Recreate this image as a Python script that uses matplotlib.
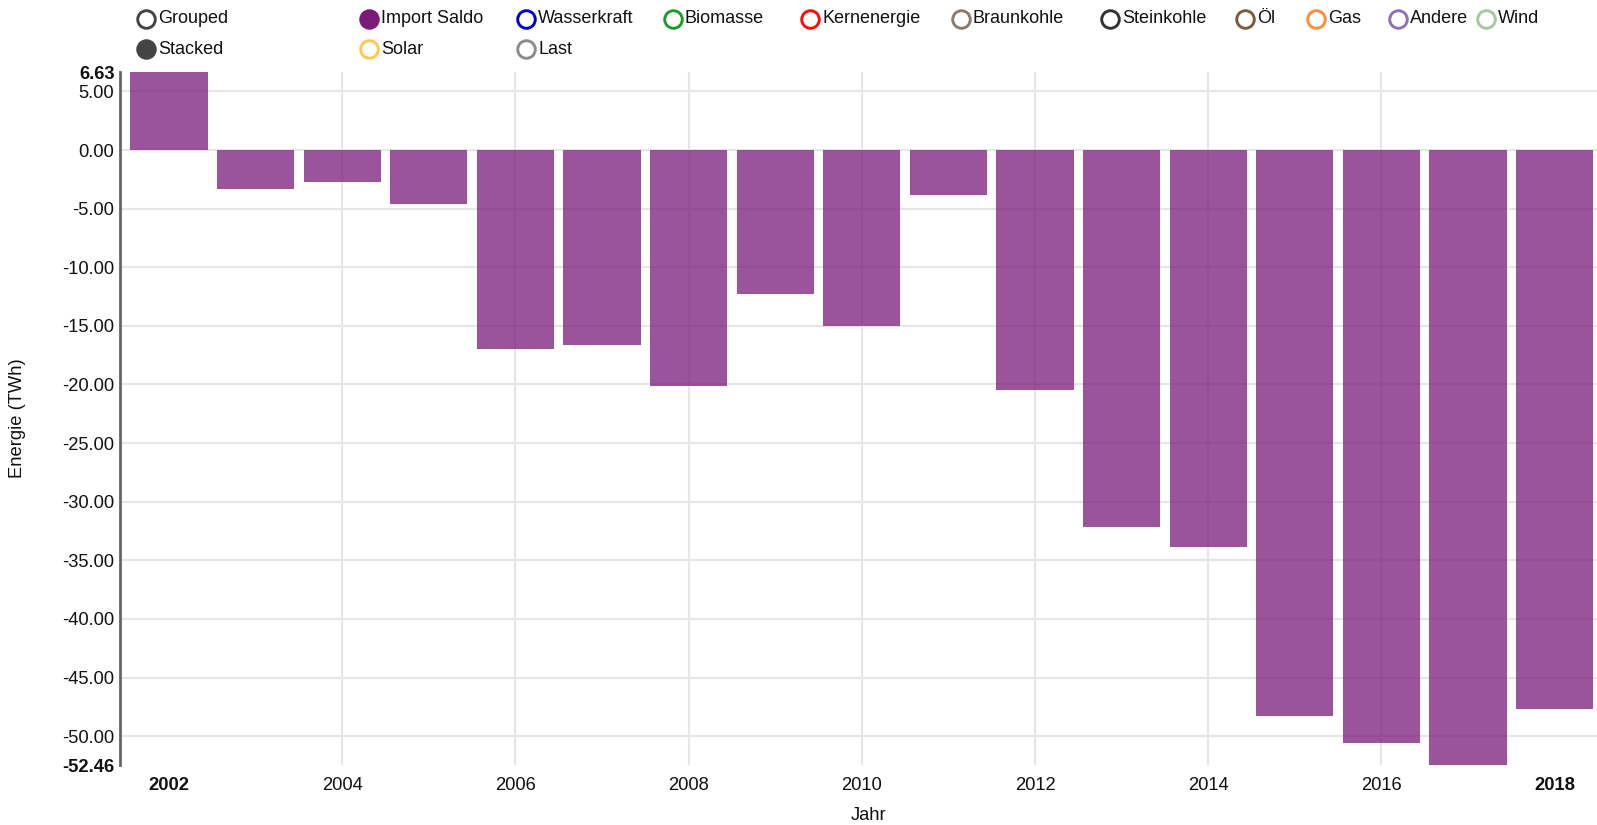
import numpy as np
from matplotlib import pyplot as plt

plt.rcParams['font.family'] = ['Liberation Sans', 'DejaVu Sans']

# Daten: Import Saldo je Jahr (TWh)
jahre = [2002, 2003, 2004, 2005, 2006, 2007, 2008, 2009, 2010,
         2011, 2012, 2013, 2014, 2015, 2016, 2017, 2018]
import_saldo = [6.63, -3.3, -2.7, -4.6, -17.0, -16.6, -20.1, -12.3, -15.0,
                -3.8, -20.5, -32.2, -33.9, -48.3, -50.6, -52.46, -47.7]
y_ticks = [5, 0, -5, -10, -15, -20, -25, -30, -35, -40, -45, -50]
x_ticks = [2002, 2004, 2006, 2008, 2010, 2012, 2014, 2016, 2018]

# Legende (Name, Farbe, gefuellt)
legend_row1 = ['Import Saldo', 'Wasserkraft', 'Biomasse', 'Kernenergie', 'Braunkohle',
               'Steinkohle', 'Öl', 'Gas', 'Andere', 'Wind']
legend_row1_colors = ['#7b1a7b', '#0000cc', '#1e9a2c', '#ff0a0a', '#8c7b6b',
                      '#333333', '#7a5c3e', '#ff8c3c', '#9170b8', '#a8c8a0']
legend_row2 = ['Solar', 'Last']
legend_row2_colors = ['#ffc850', '#8c8c8c']

W, H = 1597, 825
fig = plt.figure(figsize=(W / 100, H / 100), dpi=100)


def px(x0, y0, x1, y1):
    # Pixelbox -> Figurkoordinaten
    return [x0 / W, 1 - y1 / H, (x1 - x0) / W, (y1 - y0) / H]


ax = fig.add_axes(px(120, 72.3, 1604, 765))
ymin, ymax = min(import_saldo), max(import_saldo)

ax.bar(jahre, import_saldo, width=0.89, color='#7a1a7a', alpha=0.75, zorder=2)
ax.set_xlim(2001.434, 2018.57)
ax.set_ylim(ymin, ymax)

# Gitter
for yt in y_ticks:
    ax.axhline(yt, color='#e6e6e6', lw=1.5, zorder=1)
for xt in x_ticks[1:-1]:
    ax.axvline(xt, color='#e6e6e6', lw=1.5, zorder=1)

yt_all = [ymax] + y_ticks + [ymin]
ax.set_yticks(yt_all)
ax.set_yticklabels(['%.2f' % v for v in yt_all])
ax.set_xticks(x_ticks)
ax.set_xticklabels([str(v) for v in x_ticks])
for lab in [ax.get_yticklabels()[0], ax.get_yticklabels()[-1],
            ax.get_xticklabels()[0], ax.get_xticklabels()[-1]]:
    lab.set_fontweight('bold')

ax.tick_params(axis='both', length=0, labelsize=13.2, colors='#111111')
ax.tick_params(axis='y', pad=4)
ax.tick_params(axis='x', pad=9)
for s in ['top', 'right', 'bottom']:
    ax.spines[s].set_visible(False)
ax.spines['left'].set_color('#666666')
ax.spines['left'].set_linewidth(2)
ax.spines['left'].set_zorder(3)

fig.text(18 / W, 1 - 418 / H, 'Energie (TWh)', rotation=90, ha='center', va='center',
         fontsize=13.2, color='#111111')
fig.text(869 / W, 1 - 815 / H, 'Jahr', ha='center', va='center', fontsize=13.2, color='#111111')

# Legende oben als Overlay
lg = fig.add_axes([0, 0, 1, 1], facecolor='none')
lg.set_xlim(0, W)
lg.set_ylim(H, 0)
lg.axis('off')


def entry(cx, cy, name, color, filled):
    lg.scatter([cx], [cy], s=160, facecolor=color if filled else 'white',
               edgecolor=color, linewidth=2.1, zorder=5)
    lg.text(cx + 12, cy, name, ha='left', va='center', fontsize=13, color='#111111')


entry(146, 18.5, 'Grouped', '#444444', False)
entry(146, 49, 'Stacked', '#444444', True)
row1_x = [369, 526, 673, 810, 961, 1110, 1245, 1316, 1398, 1486]
for i, name in enumerate(legend_row1):
    entry(row1_x[i], 18.5, name, legend_row1_colors[i], i == 0)
row2_x = [369, 526]
for i, name in enumerate(legend_row2):
    entry(row2_x[i], 49, name, legend_row2_colors[i], False)

plt.savefig('out.png', dpi=100)
